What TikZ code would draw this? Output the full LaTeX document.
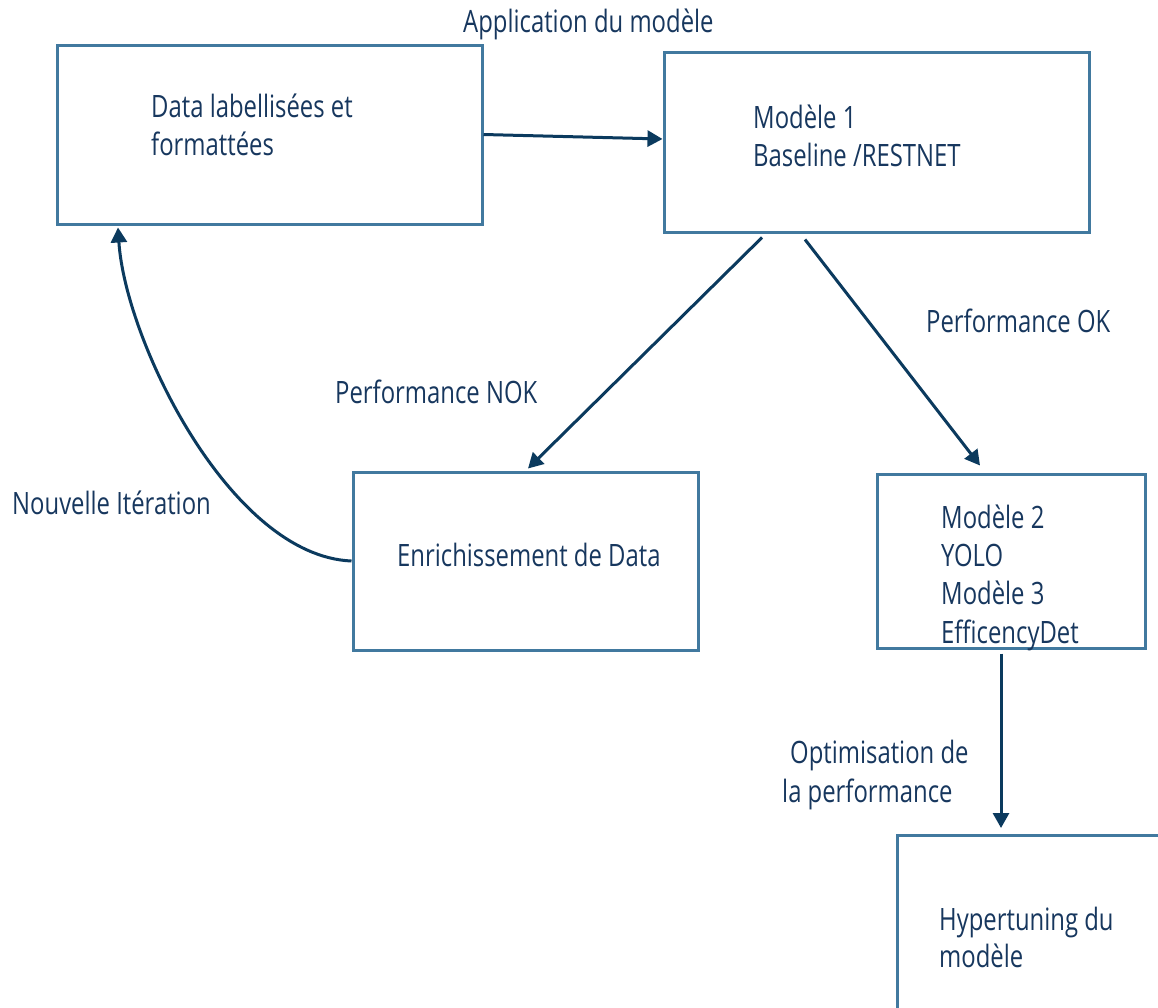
\documentclass[tikz,border=0pt]{standalone}
\usepackage{fontspec}
\setmainfont[FakeStretch=0.775]{Open Sans}
\usetikzlibrary{arrows.meta}
\definecolor{boxblue}{HTML}{41799F}
\definecolor{arrownavy}{HTML}{0B3A5E}
\definecolor{textnavy}{HTML}{17375E}
\tikzset{
  box/.style={draw=boxblue, line width=3pt, fill=none, inner sep=0pt},
  flow/.style={draw=arrownavy, line width=3pt, -{Triangle[length=15pt,width=16pt]}},
  txt/.style={anchor=base west, inner sep=0pt, text=textnavy,
    font=\fontsize{30.8}{38}\selectfont},
}
\begin{document}
\begin{tikzpicture}[x=1pt,y=-1pt]
\useasboundingbox (0,0) rectangle (1158,1007);

% boxes
\node[box, minimum width=425pt, minimum height=179pt] (b1) at (269.5,134.5) {};
\node[box, minimum width=425pt, minimum height=180pt] (b2) at (876.5,142) {};
\node[box, minimum width=345pt, minimum height=178pt] (b3) at (525.5,561) {};
\node[box, minimum width=268pt, minimum height=174pt] (b4) at (1011,561) {};
\begin{scope}
  \clip (0,0) rectangle (1158,1007);
  \node[box, minimum width=360pt, minimum height=260pt] (b5) at (1077,965) {};
\end{scope}

% texts inside boxes
\node[txt] (t1a) at (151,117) {Data labellisées et};
\node[txt] (t1b) at (151,155) {formattées};
\node[txt] (t2a) at (753,128) {Modèle 1};
\node[txt] (t2b) at (753,166) {Baseline /RESTNET};
\node[txt] (t3) at (397,566) {Enrichissement de Data};
\node[txt] (t4a) at (941,528) {Modèle 2};
\node[txt] (t4b) at (941,566) {YOLO};
\node[txt] (t4c) at (941,604) {Modèle 3};
\node[txt] (t4d) at (941,643) {EfficencyDet};
\node[txt] (t5a) at (939,930) {Hypertuning du};
\node[txt] (t5b) at (939,967) {modèle};

% connector labels
\node[txt] (l1) at (463,32) {Application du modèle};
\node[txt] (l2) at (926,332) {Performance OK};
\node[txt] (l3) at (335,403) {Performance NOK};
\node[txt] (l4) at (12,514) {Nouvelle Itération};
\node[txt] (l5a) at (790,763) {Optimisation de};
\node[txt] (l5b) at (782,802) {la performance};

% connectors
\draw[flow] (b1.east) -- ([yshift=3pt]b2.west);
\draw[flow] ([xshift=-114.5pt,yshift=-4pt]b2.south) -- ([xshift=2.5pt,yshift=2pt]b3.north);
\draw[flow] ([xshift=-71.5pt,yshift=-6pt]b2.south) -- ([xshift=-31pt,yshift=7pt]b4.north);
\coordinate (c4) at ([xshift=-10pt,yshift=-4pt]b4.south);
\draw[flow] (c4) -- (c4 |- 0,828);
\draw[flow] (b3.west) .. controls (230,556) and (125,340) .. ([xshift=-151.5pt,yshift=-2pt]b1.south);
\end{tikzpicture}
\end{document}
